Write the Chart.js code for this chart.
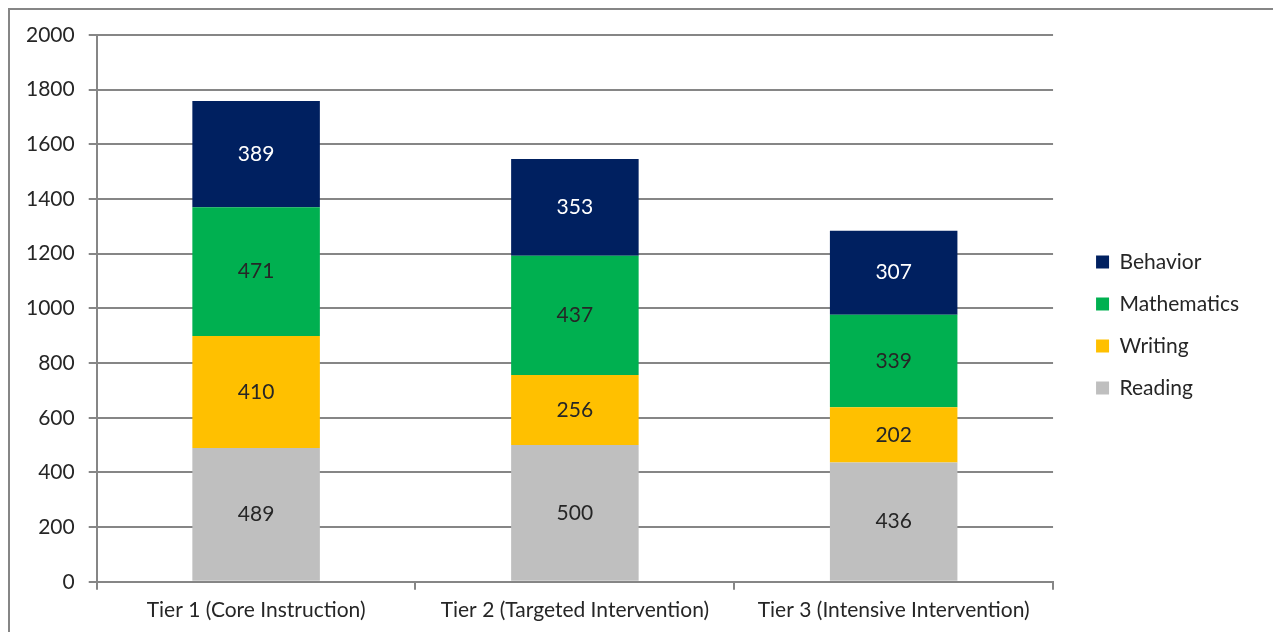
<!DOCTYPE html>
<html>
<head>
<meta charset="utf-8">
<script src="https://cdn.jsdelivr.net/npm/chart.js@4/dist/chart.umd.min.js"></script>
<style>
  html, body { margin: 0; padding: 0; background: #fff; }
  #wrap { position: absolute; left: 0; top: 0; width: 1273px; height: 632px; }
  #frame { position: absolute; left: 8px; top: 8px; width: 1300px; height: 700px;
           border-top: 2px solid #868686; border-left: 2px solid #868686; }
</style>
</head>
<body>
<div id="frame"></div>
<div id="wrap"><canvas id="tierChart"></canvas></div>
<script>
// categorias e valores
const tiers = ["Tier 1 (Core Instruction)", "Tier 2 (Targeted Intervention)", "Tier 3 (Intensive Intervention)"];
const reading = [489, 500, 436];
const writing = [410, 256, 202];
const mathematics = [471, 437, 339];
const behavior = [389, 353, 307];
const yTicks = [0, 200, 400, 600, 800, 1000, 1200, 1400, 1600, 1800, 2000];

Chart.defaults.font.family = "Lato, 'Open Sans', sans-serif";
Chart.defaults.font.size = 21;
Chart.defaults.color = "#262626";

// escreve o valor no meio de cada segmento
const segmentLabels = {
    id: "segmentLabels",
    afterDatasetsDraw(chart) {
        const ctx = chart.ctx;
        ctx.save();
        ctx.font = "21px Lato, 'Open Sans', sans-serif";
        ctx.textAlign = "center";
        ctx.textBaseline = "middle";
        chart.data.datasets.forEach((ds, i) => {
            const meta = chart.getDatasetMeta(i);
            meta.data.forEach((bar, j) => {
                const mid = (bar.y + bar.base) / 2;
                ctx.fillStyle = ds.labelColor;
                ctx.fillText(ds.data[j], bar.x, mid);
            });
        });
        ctx.restore();
    },
};

// afasta um pouco a legenda da area do grafico
const legendGap = {
    id: "legendGap",
    afterLayout(chart) {
        if (chart.legend) {
            chart.legend.left += 22;
            chart.legend.right += 22;
            chart.legend.top -= 8;
            chart.legend.bottom -= 8;
        }
    },
};

const data = {
    labels: tiers,
    datasets: [
        { label: "Reading", data: reading, backgroundColor: "#BFBFBF", labelColor: "#262626" },
        { label: "Writing", data: writing, backgroundColor: "#FFC000", labelColor: "#262626" },
        { label: "Mathematics", data: mathematics, backgroundColor: "#00B050", labelColor: "#262626" },
        { label: "Behavior", data: behavior, backgroundColor: "#002060", labelColor: "#ffffff" },
    ],
};

const config = {
    type: "bar",
    data: data,
    plugins: [segmentLabels, legendGap],
    options: {
        responsive: true,
        maintainAspectRatio: false,
        animation: false,
        datasets: { bar: { barPercentage: 0.4, categoryPercentage: 1.0 } },
        layout: { padding: { top: 35, left: 12, right: 46, bottom: 1 } },
        plugins: {
            legend: {
                position: "right",
                reverse: true,
                labels: { boxWidth: 13, boxHeight: 13, padding: 21, font: { size: 21 } },
            },
            tooltip: { enabled: false },
        },
        scales: {
            x: {
                stacked: true,
                grid: { drawOnChartArea: false, color: "#868686", lineWidth: 2, tickLength: 8 },
                border: { color: "#868686", width: 2 },
                ticks: { padding: 8 },
            },
            y: {
                stacked: true,
                min: 0,
                max: 2000,
                afterBuildTicks: (axis) => { axis.ticks = yTicks.map((v) => ({ value: v })); },
                grid: { color: "#868686", lineWidth: 2, tickLength: 8 },
                border: { color: "#868686", width: 2 },
                ticks: { padding: 14, callback: (v) => String(v) },
            },
        },
    },
};

const tierChart = new Chart(document.getElementById("tierChart"), config);
</script>
</body>
</html>
